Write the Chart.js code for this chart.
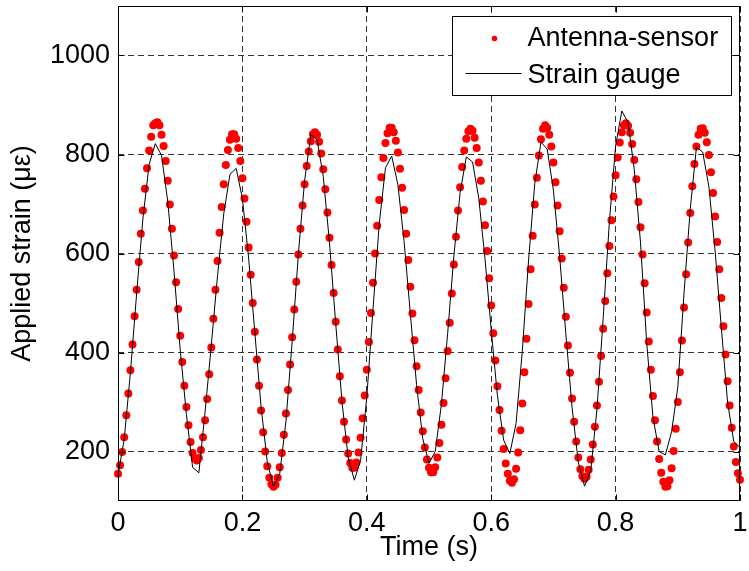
<!DOCTYPE html>
<html>
<head>
<meta charset="utf-8">
<script src="https://cdn.jsdelivr.net/npm/chart.js@4"></script>
<style>body{margin:0;background:#fff}</style>
</head>
<body>
<canvas id="chart" width="749" height="571"></canvas>
<script>
// antenna sensor, sampled at 300 Hz
const antennaRate = 300;
const antennaStrain = [
  155,172,199,229,273,317,364,416,473,527,583,640,687,731,772,808,836,859,863,865,
  859,840,817,787,747,699,650,596,542,488,434,381,333,290,253,219,197,186,182,
  187,203,229,263,306,356,410,468,527,585,642,694,740,779,809,830,841,
  841,832,813,787,752,711,664,612,557,500,442,386,333,283,239,200,170,147,134,129,
  133,147,168,197,234,277,324,376,431,487,543,598,650,697,740,777,806,827,841,845,
  840,826,802,770,730,683,632,577,520,462,406,352,303,260,224,196,177,167,
  167,178,198,228,267,313,365,421,480,541,600,656,708,754,793,823,843,854,
  854,845,828,804,771,733,688,640,587,533,479,425,372,324,279,241,208,184,167,158,
  158,168,188,217,254,298,348,403,460,519,578,634,687,734,775,808,832,847,852,
  848,834,813,784,747,705,657,605,550,495,439,384,332,284,242,205,176,155,141,137,
  144,165,198,243,297,360,428,498,568,636,699,753,798,831,852,859,
  854,840,816,784,744,697,645,590,531,472,414,359,307,260,220,188,164,150,145,
  149,163,184,214,250,293,341,393,448,504,560,615,667,715,758,794,824,845,859,863,
  858,844,821,789,750,704,653,598,540,481,422,365,312,263,220,185,157,139,129,
  130,142,166,201,246,300,360,424,491,558,622,682,736,781,816,840,852,
  853,844,825,799,764,722,675,623,568,510,453,396,342,293,248,210,179,156,143
];

// strain gauge, sampled at 100 Hz
const gaugeRate = 100;
const gaugeStrain = [
  152,225,360,520,670,780,822,798,705,565,406,275,168,157,280,415,555,680,760,772,
  711,591,440,291,179,129,155,261,422,599,747,840,830,756,622,459,302,188,142,182,
  310,488,660,773,797,739,624,479,335,226,176,200,296,439,595,723,795,785,712,590,
  446,313,223,196,257,403,585,741,825,811,728,595,438,289,179,130,161,285,469,664,
  817,888,865,770,623,420,270,200,193,240,330,520,690,815,805,735,605,450,300,220,
  208
];

const xTicks = [0, 0.2, 0.4, 0.6, 0.8, 1];
const yTicks = [200, 400, 600, 800, 1000];
const seriesNames = ['Antenna-sensor', 'Strain gauge'];

const antennaPoints = antennaStrain.map((v, i) => ({x: i / antennaRate, y: v}));
const gaugePoints = gaugeStrain.map((v, i) => ({x: i / gaugeRate, y: v}));

const FONT = "'Liberation Sans', Arial, sans-serif";
Chart.defaults.font.family = FONT;
Chart.defaults.font.size = 27;
Chart.defaults.color = '#000';

// axes box, inward ticks and the legend, drawn on top
const axesBox = {
  id: 'axesBox',
  afterDraw(chart) {
    const {ctx, chartArea: a, scales: {x, y}} = chart;
    const L = Math.round(a.left) + 0.5, R = Math.round(a.right) - 0.5;
    const T = Math.round(a.top) + 0.5, B = Math.round(a.bottom) - 0.5;
    ctx.save();
    ctx.strokeStyle = '#000';
    ctx.lineWidth = 1;
    ctx.strokeRect(L, T, R - L, B - T);
    ctx.beginPath();
    xTicks.forEach(v => {
      const px = Math.round(x.getPixelForValue(v)) + 0.5;
      ctx.moveTo(px, B); ctx.lineTo(px, B - 6);
      ctx.moveTo(px, T); ctx.lineTo(px, T + 6);
    });
    yTicks.forEach(v => {
      const py = Math.round(y.getPixelForValue(v)) + 0.5;
      ctx.moveTo(L, py); ctx.lineTo(L + 6, py);
      ctx.moveTo(R, py); ctx.lineTo(R - 6, py);
    });
    ctx.stroke();

    // legend box
    const lx = R - 287, ly = T + 10, lw = 279, lh = 79;
    ctx.fillStyle = '#fff';
    ctx.fillRect(lx, ly, lw, lh);
    ctx.strokeRect(lx, ly, lw, lh);
    ctx.font = '27px ' + FONT;
    ctx.textBaseline = 'middle';
    ctx.textAlign = 'left';
    ctx.fillStyle = '#f00';
    ctx.beginPath();
    ctx.arc(lx + 42, ly + 22, 2.8, 0, Math.PI * 2);
    ctx.fill();
    ctx.beginPath();
    ctx.moveTo(lx + 13, ly + 57);
    ctx.lineTo(lx + 69, ly + 57);
    ctx.stroke();
    ctx.fillStyle = '#000';
    ctx.fillText(seriesNames[0], lx + 75, ly + 22);
    ctx.fillText(seriesNames[1], lx + 75, ly + 59);
    ctx.restore();
  }
};

new Chart(document.getElementById('chart'), {
  type: 'scatter',
  data: {
    datasets: [
      {
        label: seriesNames[1],
        data: gaugePoints,
        showLine: true,
        borderColor: '#000',
        borderWidth: 1,
        pointRadius: 0,
        tension: 0,
        clip: false
      },
      {
        label: seriesNames[0],
        data: antennaPoints,
        showLine: false,
        pointRadius: 4,
        pointBackgroundColor: '#f00',
        pointBorderWidth: 0,
        clip: false
      }
    ]
  },
  options: {
    responsive: false,
    devicePixelRatio: 1,
    animation: false,
    events: [],
    layout: {padding: {left: 0, right: 9, top: 6, bottom: 0}},
    plugins: {legend: {display: false}, tooltip: {enabled: false}},
    scales: {
      x: {
        type: 'linear',
        min: 0,
        max: 1,
        afterBuildTicks: s => { s.ticks = xTicks.map(v => ({value: v})); },
        afterFit: s => { s.height = 70; s.paddingLeft = 0; s.paddingRight = 0; },
        ticks: {padding: 6, maxRotation: 0, autoSkip: false, callback: v => String(v)},
        grid: {color: '#333', lineWidth: 1, drawTicks: false},
        border: {display: false, dash: [6, 4]},
        title: {display: true, text: 'Time (s)', padding: {top: 0, bottom: 7}}
      },
      y: {
        type: 'linear',
        min: 100,
        max: 1100,
        afterBuildTicks: s => { s.ticks = yTicks.map(v => ({value: v})); },
        afterFit: s => { s.width = 118; s.paddingTop = 0; s.paddingBottom = 0; },
        ticks: {padding: 8, callback: v => String(v)},
        grid: {color: '#333', lineWidth: 1, drawTicks: false},
        border: {display: false, dash: [6, 4]},
        title: {display: true, text: 'Applied strain (με)', padding: {top: 6, bottom: 0}}
      }
    }
  },
  plugins: [axesBox]
});
</script>
</body>
</html>
